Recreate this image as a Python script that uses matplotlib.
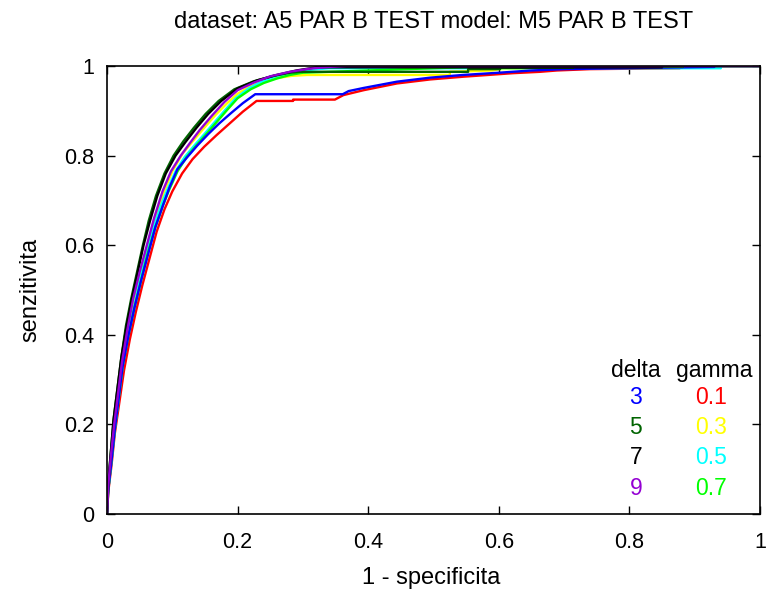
import matplotlib
matplotlib.use("Agg")
import matplotlib.pyplot as plt

plt.rcParams['font.family'] = ['Liberation Sans', 'DejaVu Sans']

title = "dataset: A5 PAR B TEST model: M5 PAR B TEST"
xlabel = "1 - specificita"
ylabel = "senzitivita"
ticks = [0, 0.2, 0.4, 0.6, 0.8, 1]
tick_labels = ["0", "0.2", "0.4", "0.6", "0.8", "1"]

delta_names = ["3", "5", "7", "9"]
delta_colors = ["#0000ff", "#006400", "#000000", "#9400d3"]
gamma_names = ["0.1", "0.3", "0.5", "0.7"]
gamma_colors = ["#ff0000", "#ffff00", "#00ffff", "#00ff00"]

# delta 3 (blue)
fpr_d3 = [0, 0.002, 0.007, 0.012, 0.018, 0.024, 0.033, 0.042, 0.052, 0.063, 0.074, 0.086, 0.096, 0.108, 0.122, 0.138,
          0.155, 0.172, 0.19, 0.208, 0.227, 0.361, 0.37, 0.393, 0.444, 0.495, 0.545, 0.6, 0.65, 0.7, 0.78, 0.93, 0.93, 1.0]
tpr_d3 = [0, 0.055, 0.12, 0.19, 0.26, 0.33, 0.4, 0.46, 0.52, 0.58, 0.64, 0.69, 0.73, 0.77, 0.795, 0.822,
          0.848, 0.872, 0.895, 0.917, 0.937, 0.937, 0.944, 0.951, 0.965, 0.974, 0.98, 0.985, 0.99, 0.993, 0.995, 0.998, 1.0, 1.0]
# delta 5 (dark green)
fpr_d5 = [0, 0.002, 0.006, 0.010, 0.016, 0.022, 0.029, 0.037, 0.046, 0.055, 0.064, 0.075, 0.088, 0.102, 0.117, 0.133,
          0.151, 0.171, 0.195, 0.225, 0.255, 0.28, 0.296, 0.553, 0.553, 0.602, 0.602, 0.714, 0.714, 0.882, 0.882, 1.0]
tpr_d5 = [0, 0.07, 0.14, 0.21, 0.28, 0.35, 0.42, 0.48, 0.54, 0.6, 0.655, 0.71, 0.76, 0.8, 0.832, 0.862,
          0.893, 0.922, 0.948, 0.966, 0.978, 0.985, 0.987, 0.987, 0.993, 0.993, 0.996, 0.996, 0.998, 0.998, 1.0, 1.0]
# delta 7 (black)
fpr_d7 = [0, 0.002, 0.006, 0.010, 0.016, 0.022, 0.030, 0.038, 0.047, 0.056, 0.066, 0.077, 0.09, 0.105, 0.12, 0.137,
          0.155, 0.175, 0.2, 0.23, 0.26, 0.29, 0.32, 0.85, 0.85, 1.0]
tpr_d7 = [0, 0.07, 0.14, 0.21, 0.28, 0.35, 0.42, 0.48, 0.54, 0.6, 0.655, 0.71, 0.76, 0.8, 0.83, 0.862,
          0.893, 0.922, 0.95, 0.968, 0.98, 0.99, 0.997, 0.997, 1.0, 1.0]
# delta 9 (purple)
fpr_d9 = [0, 0.002, 0.006, 0.011, 0.017, 0.023, 0.031, 0.040, 0.050, 0.061, 0.072, 0.085, 0.098, 0.113, 0.128, 0.142,
          0.16, 0.18, 0.2, 0.225, 0.25, 0.28, 0.31, 0.34, 0.367, 1.0]
tpr_d9 = [0, 0.065, 0.13, 0.2, 0.27, 0.34, 0.41, 0.48, 0.54, 0.6, 0.66, 0.72, 0.765, 0.8, 0.83, 0.857,
          0.888, 0.92, 0.946, 0.963, 0.977, 0.987, 0.994, 0.998, 1.0, 1.0]

# gamma 0.1 (red)
fpr_g1 = [0, 0.002, 0.007, 0.012, 0.019, 0.026, 0.035, 0.044, 0.054, 0.065, 0.076, 0.088, 0.1, 0.115, 0.131, 0.149,
          0.168, 0.188, 0.208, 0.229, 0.285, 0.285, 0.349, 0.362, 0.393, 0.444, 0.495, 0.545, 0.622, 0.663, 0.689,
          0.74, 0.877, 0.877, 1.0]
tpr_g1 = [0, 0.05, 0.11, 0.18, 0.25, 0.32, 0.39, 0.45, 0.51, 0.57, 0.63, 0.68, 0.72, 0.76, 0.792, 0.82,
          0.846, 0.872, 0.898, 0.922, 0.922, 0.925, 0.925, 0.935, 0.946, 0.961, 0.97, 0.976, 0.984, 0.987, 0.99,
          0.993, 0.995, 1.0, 1.0]
# gamma 0.3 (yellow)
fpr_g3 = [0, 0.002, 0.006, 0.011, 0.017, 0.023, 0.031, 0.040, 0.050, 0.061, 0.073, 0.087, 0.1, 0.116, 0.133, 0.15,
          0.167, 0.184, 0.2, 0.22, 0.24, 0.26, 0.283, 0.306, 0.525, 0.525, 0.59, 0.6, 0.75, 0.85, 1.0]
tpr_g3 = [0, 0.06, 0.125, 0.195, 0.265, 0.335, 0.405, 0.47, 0.53, 0.59, 0.65, 0.718, 0.765, 0.805, 0.835, 0.864,
          0.892, 0.917, 0.938, 0.955, 0.966, 0.973, 0.978, 0.98, 0.98, 0.987, 0.99, 0.993, 0.997, 1.0, 1.0]
# gamma 0.5 (cyan)
fpr_g5 = [0, 0.0, 0.002, 0.007, 0.012, 0.018, 0.024, 0.032, 0.041, 0.050, 0.060, 0.071, 0.083, 0.092, 0.105, 0.119, 0.134,
          0.149, 0.165, 0.181, 0.197, 0.217, 0.237, 0.257, 0.277, 0.3, 0.34, 0.94, 0.94, 1.0]
tpr_g5 = [0, 0.03, 0.055, 0.12, 0.19, 0.26, 0.33, 0.4, 0.46, 0.52, 0.58, 0.64, 0.69, 0.723, 0.765, 0.797, 0.823,
          0.848, 0.875, 0.902, 0.928, 0.95, 0.965, 0.976, 0.984, 0.99, 0.995, 0.995, 1.0, 1.0]
# gamma 0.7 (green)
fpr_g7 = [0, 0.002, 0.007, 0.012, 0.018, 0.024, 0.033, 0.042, 0.052, 0.062, 0.074, 0.086, 0.095, 0.108, 0.122, 0.137,
          0.152, 0.168, 0.184, 0.2, 0.22, 0.24, 0.26, 0.28, 0.3, 0.4, 0.6, 1.0]
tpr_g7 = [0, 0.055, 0.12, 0.19, 0.26, 0.33, 0.4, 0.46, 0.52, 0.58, 0.64, 0.69, 0.723, 0.765, 0.797, 0.823,
          0.848, 0.875, 0.902, 0.928, 0.948, 0.962, 0.972, 0.98, 0.985, 0.99, 1.0, 1.0]

fig = plt.figure(figsize=(7.69, 5.93), dpi=100)
ax = fig.add_axes([107/769, 1 - 514/593, 653/769, 448/593])

lw = 1.7
ax.plot(fpr_g1, tpr_g1, color=gamma_colors[0], lw=lw)
ax.plot(fpr_g3, tpr_g3, color=gamma_colors[1], lw=lw)
ax.plot(fpr_g5, tpr_g5, color=gamma_colors[2], lw=lw)
ax.plot(fpr_g7, tpr_g7, color=gamma_colors[3], lw=lw)
ax.plot(fpr_d3, tpr_d3, color=delta_colors[0], lw=lw)
ax.plot(fpr_d5, tpr_d5, color=delta_colors[1], lw=lw)
ax.plot(fpr_d7, tpr_d7, color=delta_colors[2], lw=lw)
ax.plot(fpr_d9, tpr_d9, color=delta_colors[3], lw=lw)

ax.set_xlim(0, 1)
ax.set_ylim(0, 1)
ax.set_xticks(ticks)
ax.set_xticklabels(tick_labels)
ax.set_yticks(ticks)
ax.set_yticklabels(tick_labels)
fs = 15.5
fs_big = 17
ax.tick_params(direction='in', length=6, width=1, top=True, right=True, labelsize=fs)
ax.tick_params(axis='x', pad=13)
ax.tick_params(axis='y', pad=9)
for s in ax.spines.values():
    s.set_linewidth(1.2)

fig.text(433.5/769, 1 - 22/593, title, ha='center', va='center', fontsize=fs_big)
fig.text(431/769, 1 - 578/593, xlabel, ha='center', va='center', fontsize=fs_big)
fig.text(30/769, 1 - 290/593, ylabel, ha='center', va='center', rotation=90, fontsize=fs_big)

fl = 16.5
ax.text(0.81, 0.321, "delta", transform=ax.transAxes, ha='center', va='center', fontsize=fl)
ax.text(0.93, 0.321, "gamma", transform=ax.transAxes, ha='center', va='center', fontsize=fl)
rows_y = [0.259, 0.192, 0.125, 0.058]
for i in range(4):
    ax.text(0.81, rows_y[i], delta_names[i], color=delta_colors[i], transform=ax.transAxes,
            ha='center', va='center', fontsize=fl)
    ax.text(0.925, rows_y[i], gamma_names[i], color=gamma_colors[i], transform=ax.transAxes,
            ha='center', va='center', fontsize=fl)

fig.savefig("out.png", dpi=100)
